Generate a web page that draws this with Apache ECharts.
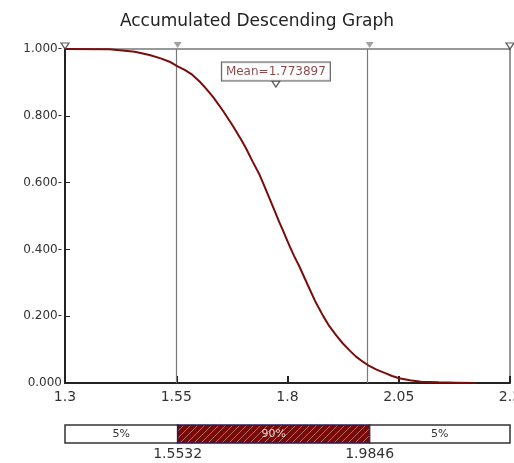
<!DOCTYPE html>
<html><head><meta charset="utf-8">
<script src="https://cdn.jsdelivr.net/npm/echarts@6/dist/echarts.min.js"></script>
<style>html,body{margin:0;padding:0;background:#fff}#c{width:514px;height:463px}</style>
</head><body><div id="c"></div><script>
// ---- data ----
const xValues = [1.300,1.400,1.457,1.490,1.515,1.535,1.552,1.570,1.584,1.603,1.618,1.633,1.655,1.677,1.696,1.707,1.722,1.737,1.745,1.756,1.767,1.782,1.789,1.804,1.815,1.827,1.846,1.864,1.880,1.894,1.910,1.924,1.940,1.954,1.970,1.984,2.000,2.021,2.035,2.051,2.075,2.100,2.140,2.180,2.223];
const yValues = [1.000,0.999,0.992,0.982,0.972,0.962,0.949,0.937,0.925,0.902,0.880,0.856,0.815,0.770,0.728,0.702,0.662,0.624,0.599,0.564,0.529,0.480,0.459,0.412,0.380,0.348,0.292,0.240,0.201,0.170,0.142,0.119,0.097,0.079,0.063,0.051,0.040,0.029,0.021,0.014,0.008,0.004,0.002,0.001,0.000];
const xTickLabels = ['1.3','1.55','1.8','2.05','2.3'];
const yTickLabels = ['0.000','0.200-','0.400-','0.600-','0.800-','1.000-'];
const meanValue = 1.773897;
const meanLabelY = 0.895;
const cutValues = [1.5532, 1.9846];
const bandStarts = [1.3, 1.5532, 1.9846];
const bandEnds = [1.5532, 1.9846, 2.3];
const bandLabels = ['5%', '90%', '5%'];
const titleText = 'Accumulated Descending Graph';

// ---- chart ----
const FONT = 'DejaVu Sans';
const pat = document.createElement('canvas');
pat.width = 7; pat.height = 7;
(function(){
  const g = pat.getContext('2d');
  g.fillStyle = '#7a0a0a'; g.fillRect(0,0,7,7);
  g.strokeStyle = '#a8705f'; g.lineWidth = 1;
  g.beginPath();
  g.moveTo(-1,8); g.lineTo(8,-1);
  g.moveTo(-1,1); g.lineTo(1,-1);
  g.moveTo(6,8); g.lineTo(8,6);
  g.stroke();
})();

const chart = echarts.init(document.getElementById('c'), null, {renderer:'canvas'});
const lineData = xValues.map((x,i)=>[x, yValues[i]]);
const xMin = 1.3, xMax = 2.3;

chart.setOption({
  animation: false,
  backgroundColor: '#fff',
  title: {
    text: titleText, left: 'center', top: 8,
    textStyle: {fontFamily: FONT, fontSize: 17, fontWeight: 'normal', color: '#222'}
  },
  grid: [
    {left: 65, top: 49, width: 445, height: 334, show: true, borderColor: '#333', borderWidth: 1, outerBoundsMode: 'none', containLabel: false},
    {left: 65, top: 425, width: 445, height: 18, outerBoundsMode: 'none', containLabel: false}
  ],
  xAxis: [
    {
      gridIndex: 0, type: 'value', min: xMin, max: xMax, interval: 0.25,
      axisLine: {lineStyle: {color: '#222', width: 2}},
      axisTick: {inside: true, length: 7, lineStyle: {color: '#222', width: 2}},
      splitLine: {show: false},
      axisLabel: {
        margin: 7, fontFamily: FONT, fontSize: 14, color: '#333',
        formatter: (v) => xTickLabels[Math.round((v - xMin) / 0.25)] || ''
      }
    },
    {gridIndex: 1, type: 'value', min: xMin, max: xMax, show: false}
  ],
  yAxis: [
    {
      gridIndex: 0, type: 'value', min: 0, max: 1, interval: 0.2,
      axisLine: {show: true, lineStyle: {color: '#222', width: 2}},
      axisTick: {show: true, inside: true, length: 5, lineStyle: {color: '#222', width: 1}},
      splitLine: {show: false},
      axisLabel: {
        margin: 3, fontFamily: FONT, fontSize: 12, color: '#333',
        formatter: (v) => yTickLabels[Math.round(v / 0.2)] || ''
      }
    },
    {gridIndex: 1, type: 'value', min: 0, max: 1, show: false}
  ],
  series: [
    {
      type: 'line', xAxisIndex: 0, yAxisIndex: 0, data: lineData,
      showSymbol: false, smooth: false,
      lineStyle: {color: '#7a0c0c', width: 2},
      z: 5,
      markLine: {
        silent: true, symbol: 'none', label: {show: false},
        lineStyle: {color: '#7a7a7a', width: 1.2, type: 'solid'},
        data: cutValues.map(v => ({xAxis: v}))
      }
    },
    {
      type: 'scatter', xAxisIndex: 0, yAxisIndex: 0,
      data: cutValues.map(v => [v, 1]),
      symbol: 'triangle', symbolRotate: 180, symbolSize: [8, 6], symbolOffset: [0, -4],
      itemStyle: {color: '#8a8a8a'}, clip: false, z: 6, silent: true
    },
    {
      type: 'scatter', xAxisIndex: 0, yAxisIndex: 0,
      data: [[xMin, 1], [xMax, 1]],
      symbol: 'triangle', symbolRotate: 180, symbolSize: [8, 6], symbolOffset: [0, -3],
      itemStyle: {color: '#fff', borderColor: '#333', borderWidth: 1.2}, clip: false, z: 6, silent: true
    },
    {
      type: 'scatter', xAxisIndex: 0, yAxisIndex: 0,
      data: [[meanValue, meanLabelY]],
      symbol: 'triangle', symbolRotate: 180, symbolSize: [8, 6],
      itemStyle: {color: '#fff', borderColor: '#333', borderWidth: 1.2}, z: 7, silent: true,
      label: {
        show: true, position: 'top', distance: 0,
        formatter: () => 'Mean=' + meanValue.toFixed(6),
        fontFamily: FONT, fontSize: 12, color: '#6e1b1b',
        backgroundColor: '#fff', borderColor: '#333', borderWidth: 1,
        padding: [2, 4, 1, 4], lineHeight: 15
      }
    },
    {
      type: 'custom', xAxisIndex: 1, yAxisIndex: 1,
      data: bandStarts.map((s, i) => [s, bandEnds[i], i]),
      clip: false, silent: true,
      renderItem: function (params, api) {
        const i = api.value(2);
        const p0 = api.coord([api.value(0), 1]);
        const p1 = api.coord([api.value(1), 0]);
        const mid = i === 1;
        const children = [
          {
            type: 'rect',
            shape: {x: p0[0], y: p0[1], width: p1[0] - p0[0], height: p1[1] - p0[1]},
            style: mid
              ? {fill: {image: pat, repeat: 'repeat'}, stroke: '#2a1a5a', lineWidth: 1.5}
              : {fill: '#fff', stroke: '#333', lineWidth: 1.5}
          },
          {
            type: 'text',
            style: {
              text: bandLabels[i], x: (p0[0] + p1[0]) / 2, y: (p0[1] + p1[1]) / 2,
              align: 'center', verticalAlign: 'middle',
              fontFamily: FONT, fontSize: 11, fill: mid ? '#e0d0d0' : '#333'
            }
          }
        ];
        if (i > 0) {
          children.push({
            type: 'text',
            style: {
              text: api.value(0).toFixed(4), x: p0[0], y: p1[1] + 11,
              align: 'center', verticalAlign: 'middle',
              fontFamily: FONT, fontSize: 14, fill: '#333'
            }
          });
        }
        return {type: 'group', children: children};
      }
    }
  ]
});
</script></body></html>
